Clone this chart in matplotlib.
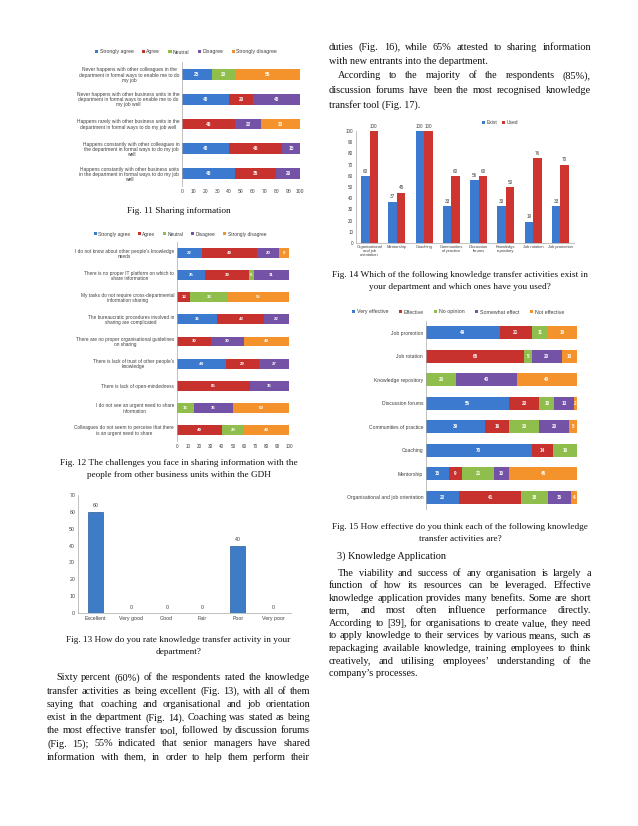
import matplotlib
matplotlib.use("Agg")
import matplotlib.pyplot as plt
import numpy as np
from matplotlib.font_manager import FontProperties

W, H = 638, 826
fig = plt.figure(figsize=(W / 100, H / 100), dpi=100)
fig.patch.set_facecolor("white")

# ---------------- data ----------------
likert5 = ["Strongly agree", "Agree", "Neutral", "Disagree", "Strongly disagree"]
eff5 = ["Very effective", "Effective", "No opinion", "Somewhat effect", "Not effective"]
seg_colors = ["#3C7AD0", "#C8322E", "#8FBE4C", "#7452A6", "#F4922C"]

fig11_cats = [
    "Never happens with other colleagues in the\ndepartment in formal ways to enable me to do\nmy job",
    "Never happens with other business units in the\ndepartment in formal ways to enable me to do\nmy job well",
    "Happens rarely with other business units in the\ndepartment in formal ways to do my job well",
    "Happens constantly with other colleagues in\nthe department in formal ways to do my job\nwell",
    "Happens constantly with other business units\nin the department in formal ways to do my job\nwell",
]
fig11_sa = [25, 40, 0, 40, 45]
fig11_a = [0, 20, 45, 45, 35]
fig11_n = [20, 0, 0, 0, 0]
fig11_d = [0, 40, 22, 15, 20]
fig11_sd = [55, 0, 33, 0, 0]

fig12_cats = [
    "I do not know about other people's knowledge\nneeds",
    "There is no proper IT platform on which to\nshare information",
    "My tasks do not require cross-departmental\ninformation sharing",
    "The bureaucratic procedures involved in\nsharing are complicated",
    "There are no proper organisational guidelines\non sharing",
    "There is lack of trust of other people's\nknowledge",
    "There is lack of open-mindedness",
    "I do not see an urgent need to share\ninformation",
    "Colleagues do not seem to perceive that there\nis an urgent need to share",
]
fig12_sa = [22, 25, 0, 36, 0, 44, 0, 0, 0]
fig12_a = [49, 39, 12, 42, 30, 29, 65, 0, 40]
fig12_n = [0, 5, 33, 0, 0, 0, 0, 15, 20]
fig12_d = [20, 31, 0, 22, 30, 27, 35, 35, 0]
fig12_sd = [9, 0, 55, 0, 40, 0, 0, 50, 40]

fig13_cats = ["Excellent", "Very good", "Good", "Fair", "Poor", "Very poor"]
fig13_vals = [60, 0, 0, 0, 40, 0]

fig14_cats = ["Organisational\nand job\norientation", "Mentorship", "Coaching",
              "Communities\nof practice", "Discussion\nforums", "Knowledge\nrepository",
              "Job rotation", "Job promotion"]
fig14_exist = [60, 37, 100, 33, 56, 33, 19, 33]
fig14_used = [100, 45, 100, 60, 60, 50, 76, 70]

fig15_cats = ["Job promotion", "Job rotation", "Knowledge repository", "Discussion forums",
              "Communities of practice", "Coaching", "Mentorship",
              "Organisational and job orientation"]
fig15_ve = [49, 0, 0, 55, 39, 70, 15, 22]
fig15_e = [21, 65, 0, 20, 16, 14, 9, 41]
fig15_no = [11, 5, 20, 10, 20, 16, 21, 18]
fig15_se = [0, 20, 40, 13, 20, 0, 10, 15]
fig15_ne = [19, 10, 40, 2, 5, 0, 45, 4]

left_par = [
    "Sixty percent (60%) of the respondents rated the knowledge",
    "transfer activities as being excellent (Fig. 13), with all of them",
    "saying that coaching and organisational and job orientation",
    "exist in the department (Fig. 14). Coaching was stated as being",
    "the most effective transfer tool, followed by discussion forums",
    "(Fig. 15); 55% indicated that senior managers have shared",
    "information with them, in order to help them perform their",
]
right_top = [
    "duties (Fig. 16), while 65% attested to sharing information",
    "with new entrants into the department.",
    "According to the majority of the respondents (85%),",
    "discussion forums have been the most recognised knowledge",
    "transfer tool (Fig. 17).",
]
right_par = [
    "The viability and success of any organisation is largely a",
    "function of how its resources can be leveraged. Effective",
    "knowledge application provides many benefits. Some are short",
    "term, and most often influence performance directly.",
    "According to [39], for organisations to create value, they need",
    "to apply knowledge to their services by various means, such as",
    "repackaging available knowledge, training employees to think",
    "creatively, and utilising employees\u2019 understanding of the",
    "company\u2019s processes.",
]

SANS = "Liberation Sans"
SERIF = "Liberation Serif"
GRAY = "#404040"
AXC = "#A6A6A6"


def rect(x0, y0, x1, y1):
    return fig.add_axes([x0 / W, 1 - y1 / H, (x1 - x0) / W, (y1 - y0) / H])


def stacked_barh(ax, cats, series, names, fs, height, legend_xy, label_fs, legend_fs, colsp):
    n = len(cats)
    y = np.arange(n)
    left = np.zeros(n)
    handles = []
    for vals, name, col in zip(series, names, seg_colors):
        vals = np.array(vals, dtype=float)
        b = ax.barh(y, vals, left=left, height=height, color=col, edgecolor="none", label=name)
        handles.append(b)
        for yi, v, l in zip(y, vals, left):
            if v > 0:
                ax.text(l + v / 2, yi, f"{int(v)}", ha="center", va="center", color="white",
                        fontsize=fs, fontweight="bold", family=SANS)
        left += vals
    ax.set_ylim(n - 0.5, -0.5)
    ax.set_xlim(0, 100)
    ax.set_yticks(y)
    ax.set_yticklabels(cats, fontsize=label_fs, family=SANS, color=GRAY,
                       multialignment="center", linespacing=1.05)
    for s in ["top", "right", "bottom"]:
        ax.spines[s].set_visible(False)
    ax.spines["left"].set_color(AXC)
    ax.spines["left"].set_linewidth(0.5)
    ax.tick_params(axis="y", length=0, pad=2)
    fig.legend(handles=handles, labels=names, loc="center",
               bbox_to_anchor=(legend_xy[0] / W, 1 - legend_xy[1] / H), ncol=len(names),
               frameon=False, prop=FontProperties(family=SANS, size=legend_fs),
               handlelength=0.6, handleheight=0.6, handletextpad=0.3, columnspacing=colsp,
               labelcolor=GRAY)


# ---------- Fig 11 ----------
ax11 = rect(182, 62, 300, 186)
stacked_barh(ax11, fig11_cats, [fig11_sa, fig11_a, fig11_n, fig11_d, fig11_sd], likert5,
             3.4, 0.43, (186, 52), 3.5, 3.7, 1.6)
ax11.set_xticks(range(0, 101, 10))
ax11.tick_params(axis="x", length=0, pad=2, labelsize=3.6, labelcolor=GRAY)
for t in ax11.get_xticklabels():
    t.set_family(SANS)

# ---------- Fig 12 ----------
ax12 = rect(177, 242, 289, 441)
stacked_barh(ax12, fig12_cats, [fig12_sa, fig12_a, fig12_n, fig12_d, fig12_sd], likert5,
             3.2, 0.45, (180, 234), 3.4, 3.5, 1.6)
ax12.set_xticks(range(0, 101, 10))
ax12.tick_params(axis="x", length=0, pad=2, labelsize=3.3, labelcolor=GRAY)
for t in ax12.get_xticklabels():
    t.set_family(SANS)

# ---------- Fig 13 ----------
ax13 = rect(78, 495, 291, 613)
x13 = np.arange(len(fig13_cats))
ax13.bar(x13, fig13_vals, width=0.42, color="#3F7CC8", edgecolor="#2B5C9C", linewidth=0.5)
for xi, v in zip(x13, fig13_vals):
    ax13.text(xi, v + 2, f"{v}", ha="center", va="bottom", fontsize=3.8, color=GRAY, family=SANS)
ax13.set_ylim(0, 70)
ax13.set_xlim(-0.5, len(fig13_cats) - 0.5)
ax13.set_yticks(range(0, 71, 10))
ax13.set_xticks(x13)
ax13.set_xticklabels(fig13_cats)
ax13.tick_params(length=0, pad=2, labelsize=3.8, labelcolor=GRAY)
for t in ax13.get_xticklabels() + ax13.get_yticklabels():
    t.set_family(SANS)
for s in ["top", "right"]:
    ax13.spines[s].set_visible(False)
for s in ["left", "bottom"]:
    ax13.spines[s].set_color(AXC)
    ax13.spines[s].set_linewidth(0.5)

# ---------- Fig 14 ----------
ax14 = rect(356, 131, 574, 243)
x14 = np.arange(len(fig14_cats))
bw = 0.31
b1 = ax14.bar(x14 - bw / 2, fig14_exist, width=bw, color="#3C7AD0", edgecolor="none", label="Exist")
b2 = ax14.bar(x14 + bw / 2, fig14_used, width=bw, color="#CF3530", edgecolor="none", label="Used")
for xi, v in zip(x14 - bw / 2, fig14_exist):
    ax14.text(xi, v + 2, f"{v}", ha="center", va="bottom", fontsize=3.3, color=GRAY, family=SANS)
for xi, v in zip(x14 + bw / 2, fig14_used):
    ax14.text(xi, v + 2, f"{v}", ha="center", va="bottom", fontsize=3.3, color=GRAY, family=SANS)
ax14.set_ylim(0, 100)
ax14.set_xlim(-0.5, len(fig14_cats) - 0.5)
ax14.set_yticks(range(0, 101, 10))
ax14.set_xticks(x14)
ax14.set_xticklabels(fig14_cats, linespacing=0.95)
ax14.tick_params(length=0, pad=2, labelsize=3.3, labelcolor=GRAY)
ax14.tick_params(axis="x", labelsize=2.9, pad=1.5)
for t in ax14.get_xticklabels() + ax14.get_yticklabels():
    t.set_family(SANS)
for s in ["top", "right"]:
    ax14.spines[s].set_visible(False)
for s in ["left", "bottom"]:
    ax14.spines[s].set_color(AXC)
    ax14.spines[s].set_linewidth(0.5)
fig.legend(handles=[b1, b2], labels=["Exist", "Used"], loc="center",
           bbox_to_anchor=(500 / W, 1 - 123 / H), ncol=2, frameon=False,
           prop=FontProperties(family=SANS, size=3.5), handlelength=0.6, handleheight=0.6,
           handletextpad=0.3, columnspacing=1.0, labelcolor=GRAY)

# ---------- Fig 15 ----------
ax15 = rect(426, 321, 577, 509)
stacked_barh(ax15, fig15_cats, [fig15_ve, fig15_e, fig15_no, fig15_se, fig15_ne], eff5,
             3.3, 0.54, (458, 312), 3.6, 3.8, 2.0)
ax15.set_xticks([])

# ---------------- text ----------------
renderer = fig.canvas.get_renderer()
LX0, LX1 = 47, 310
RX0, RX1 = 329, 591
LC = (LX0 + LX1) / 2
RC = (RX0 + RX1) / 2
IND = 9


def tw(s, size):
    fp = FontProperties(family=SERIF, size=size)
    w, h, d = renderer.get_text_width_height_descent(s, fp, ismath=False)
    return w


# body size: widest justified line (natural spacing) just fills the column
full_lines = [(s, IND if i == 0 else 0) for i, s in enumerate(left_par)]
full_lines += [(right_par[i], IND if i == 0 else 0) for i in range(len(right_par) - 1)]
ratio = max((tw(s, 10) + ind) / (LX1 - LX0) for s, ind in full_lines)
BODY = 10 / ratio * 0.985
CAP = BODY * 0.9


def put(x, y, s, size, ha="left"):
    fig.text(x / W, 1 - y / H, s, ha=ha, va="center_baseline", fontsize=size,
             family=SERIF, color="#111111")


def justify(s, x0, x1, y, size, indent=0, last=False):
    if last:
        put(x0 + indent, y, s, size)
        return
    words = s.split()
    widths = [tw(wd, size) for wd in words]
    gap = (x1 - x0 - indent - sum(widths)) / (len(words) - 1)
    x = x0 + indent
    for wd, wdt in zip(words, widths):
        put(x, y, wd, size)
        x += wdt + gap


put(LC, 210, "Fig. 11 Sharing information", CAP, "center")
put(LC, 462, "Fig. 12 The challenges you face in sharing information with the", CAP, "center")
put(LC, 474, "people from other business units within the GDH", CAP, "center")
put(LC, 639, "Fig. 13 How do you rate knowledge transfer activity in your", CAP, "center")
put(LC, 651, "department?", CAP, "center")

for i, line in enumerate(left_par):
    justify(line, LX0, LX1, 677 + i * 13.2, BODY, indent=IND if i == 0 else 0)

top_fmt = [(0, False), (0, True), (IND, False), (0, False), (0, True)]
for i, (line, (ind, last)) in enumerate(zip(right_top, top_fmt)):
    justify(line, RX0, RX1, 46 + i * 14.5, BODY, indent=ind, last=last)

put(RC, 274, "Fig. 14 Which of the following knowledge transfer activities exist in", CAP, "center")
put(RC, 286, "your department and which ones have you used?", CAP, "center")
put(RC, 526, "Fig. 15 How effective do you think each of the following knowledge", CAP, "center")
put(RC, 538, "transfer activities are?", CAP, "center")
put(RX0 + IND - 1, 555, "3) Knowledge Application", BODY)

for i, line in enumerate(right_par):
    justify(line, RX0, RX1, 572 + i * 12.6, BODY, indent=IND if i == 0 else 0,
            last=(i == len(right_par) - 1))

fig.savefig("out.png", dpi=100)
